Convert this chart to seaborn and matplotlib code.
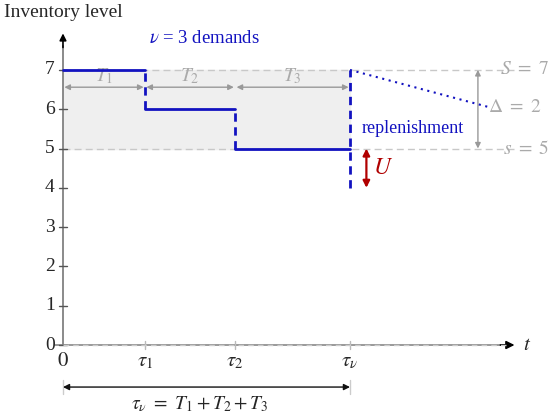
import matplotlib
matplotlib.use("Agg")
import matplotlib.pyplot as plt
import seaborn as sns
import pandas as pd
import numpy as np

# データ
tau = [0.0, 1.0, 2.1, 3.5]          # 0, τ1, τ2, τν
tau_labels = ["$0$", r"$\tau_1$", r"$\tau_2$", r"$\tau_\nu$"]
levels = [7, 6, 5]                  # 在庫レベル
S_level = 7
s_level = 5
U_low = 4.0
y_ticks = [0, 1, 2, 3, 4, 5, 6, 7]
T_labels = ["$T_1$", "$T_2$", "$T_3$"]

blue = "#1212c0"
gray = "#aaaaaa"
red = "#b00000"

sns.set_style("white")
plt.rcParams["font.family"] = ["Liberation Serif", "DejaVu Serif"]
plt.rcParams["mathtext.fontset"] = "stix"

fig = plt.figure(figsize=(5.5, 4.17), dpi=100)
ax = fig.add_axes([0, 0, 1, 1])
ax.set_xlim(-0.768, 5.939)
ax.set_ylim(-1.832, 8.779)
ax.set_axis_off()

# 灰色の領域
ax.fill_between([0, tau[3]], s_level, S_level, color="#efefef", zorder=0)
ax.hlines([S_level, s_level], 0, 5.5, colors="#c8c8c8", linestyles=(0, (5, 3)), lw=1, zorder=1)

# 軸
ax.plot([0, 0], [0, 7.6], color="#777777", lw=1.2, zorder=2)
ax.annotate("", xy=(0, 8.0), xytext=(0, 7.5),
            arrowprops=dict(arrowstyle="-|>", color="black", lw=1.2, mutation_scale=10))
ax.plot([-0.1, 5.4], [0, 0], color="#888888", lw=1.2, zorder=2)
ax.annotate("", xy=(5.54, 0), xytext=(5.3, 0),
            arrowprops=dict(arrowstyle="-|>", color="black", lw=1.2, mutation_scale=12))
ax.hlines(0, 0, 5.4, colors="#cccccc", linestyles=(0, (4, 3)), lw=1, zorder=3)
ax.text(5.66, 0, "$t$", fontsize=15, ha="center", va="center")
ax.text(-0.72, 8.47, "Inventory level", fontsize=14, ha="left", va="center")

for yt in y_ticks:
    ax.plot([-0.05, 0.05], [yt, yt], color="#555555", lw=1)
    ax.text(-0.1, yt, str(yt), fontsize=14, ha="right", va="center")
for xt, lab in zip(tau, tau_labels):
    if xt > 0:
        ax.plot([xt, xt], [-0.1, 0.1], color="#bbbbbb", lw=1)
    ax.text(xt, -0.42, lab, fontsize=15, ha="center", va="center")

# 在庫レベルのステップ（水平部分）
seg = pd.DataFrame({
    "t": [tau[0], tau[1], tau[1], tau[2], tau[2], tau[3]],
    "level": [levels[0], levels[0], levels[1], levels[1], levels[2], levels[2]],
    "seg": [0, 0, 1, 1, 2, 2],
})
sns.lineplot(data=seg, x="t", y="level", units="seg", estimator=None,
             color=blue, lw=2, ax=ax, zorder=5, sort=False)

# 垂直（破線）部分
ax.vlines(tau[1], levels[1], levels[0], colors=blue, linestyles=(0, (3, 2)), lw=2, zorder=5)
ax.vlines(tau[2], levels[2], levels[1], colors=blue, linestyles=(0, (3, 2)), lw=2, zorder=5)
ax.vlines(tau[3], U_low, S_level, colors=blue, linestyles=(0, (3, 2)), lw=2, zorder=5)

# 補充（点線）
ax.plot([tau[3], 5.2], [S_level, 6.05], color=blue, ls=(0, (1, 2.2)), lw=1.5, zorder=5)
ax.text(4.27, 5.52, "replenishment", fontsize=13, color=blue, ha="center", va="center")
ax.text(1.72, 7.8, r"$\nu$ = 3 demands", fontsize=13.5, color=blue, ha="center", va="center")

# T矢印
for i in range(3):
    ax.annotate("", xy=(tau[i + 1], 6.56), xytext=(tau[i], 6.56),
                arrowprops=dict(arrowstyle="<|-|>", color="#999999", lw=1, mutation_scale=8,
                                shrinkA=1, shrinkB=1))
    ax.text((tau[i] + tau[i + 1]) / 2, 6.85, T_labels[i], fontsize=14, color=gray,
            ha="center", va="center")

# Δ矢印
ax.annotate("", xy=(5.06, S_level), xytext=(5.06, s_level),
            arrowprops=dict(arrowstyle="<|-|>", color="#999999", lw=1, mutation_scale=8,
                            shrinkA=0, shrinkB=0))
ax.text(5.18, 6.05, r"$\Delta\ =\ 2$", fontsize=14, color=gray, ha="left", va="center")
ax.text(5.33, S_level, r"$S\ =\ 7$", fontsize=14, color=gray, ha="left", va="center")
ax.text(5.36, s_level, r"$s\ =\ 5$", fontsize=14, color=gray, ha="left", va="center")

# U矢印
ax.annotate("", xy=(3.7, U_low), xytext=(3.7, s_level),
            arrowprops=dict(arrowstyle="<|-|>", color=red, lw=1.6, mutation_scale=10,
                            shrinkA=0, shrinkB=0))
ax.text(3.9, 4.5, "$U$", fontsize=17, color=red, ha="center", va="center")

# 下の矢印
ax.plot([0, 0], [-1.25, -0.9], color="#cccccc", lw=1)
ax.plot([tau[3], tau[3]], [-1.25, -0.9], color="#cccccc", lw=1)
ax.annotate("", xy=(tau[3], -1.07), xytext=(0, -1.07),
            arrowprops=dict(arrowstyle="<|-|>", color="#111111", lw=1, mutation_scale=9,
                            shrinkA=0, shrinkB=0))
ax.text(1.67, -1.5, r"$\tau_\nu\ =\ T_1 + T_2 + T_3$", fontsize=14,
        ha="center", va="center")

plt.savefig("out.png", dpi=100)
